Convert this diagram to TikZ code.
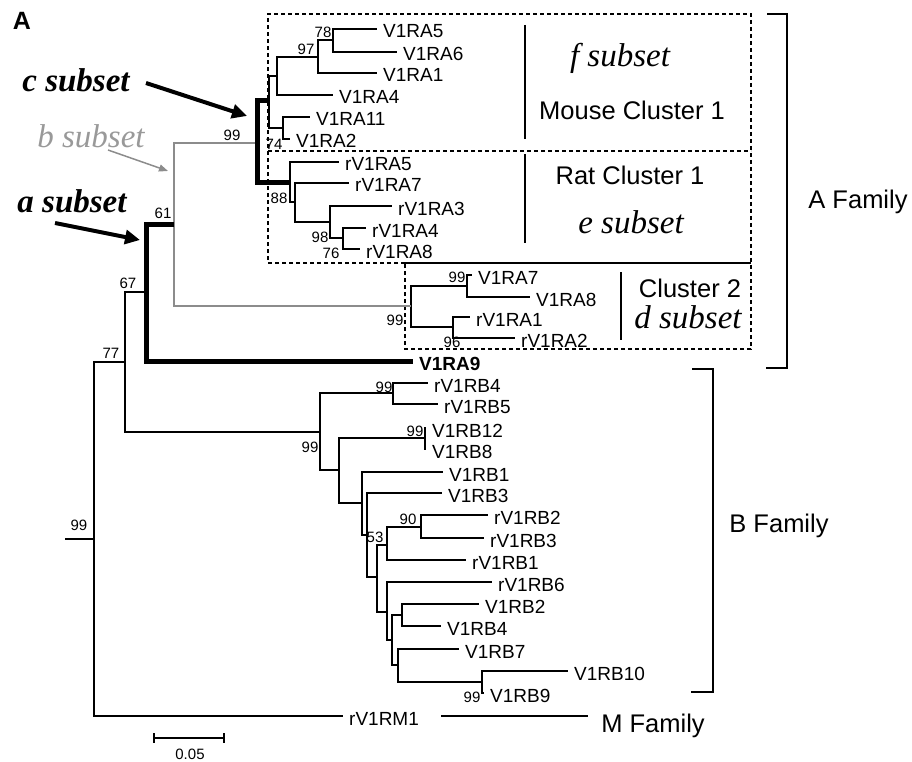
\documentclass[tikz,border=0pt]{standalone}
\usepackage{fontspec}
\setmainfont{Liberation Sans}
\newfontfamily\serifit{Liberation Serif}
\usetikzlibrary{arrows.meta}
\newcommand\leafsz{\fontsize{19}{22}\selectfont}
\newcommand\bootsz{\fontsize{15}{18}\selectfont}
\newcommand\famsz{\fontsize{25.5}{30}\selectfont}
\newcommand\subsz{\fontsize{33}{38}\selectfont}
\begin{document}
\begin{tikzpicture}[x=1pt,y=-1pt,
  br/.style={line width=1.3pt},
  thk/.style={line width=5pt},
  gry/.style={line width=1.6pt, draw=black!45},
  leaf/.style={anchor=west, inner xsep=6pt, inner ysep=0pt, text height=18pt, text depth=0pt, font=\leafsz},
  bs/.style={inner sep=0pt, font=\bootsz},
  fam/.style={anchor=base, inner sep=0pt, font=\famsz},
  subs/.style={anchor=base, inner sep=0pt, font=\subsz\serifit\itshape},
  dbox/.style={line width=1.3pt, dash pattern=on 4pt off 3pt},
  sep/.style={line width=1.3pt},
  bigarrow/.style={line width=4pt, -{Triangle[length=15pt,width=14pt]}},
  greyarrow/.style={line width=1.5pt, draw=black!45, -{Triangle[length=9pt,width=7pt]}, black!45}
]
\useasboundingbox (0,0) rectangle (912,762);

% ---------- dashed cluster boxes ----------
\draw[dbox] (405,263) -- (268,263) -- (268,14) -- (751,14) -- (751,349) -- (405,349) -- cycle;
\draw[dbox] (268,151) -- (751,151);
\draw[sep] (405,263) -- (751,263);
\draw[sep] (525,25) -- (525,139);
\draw[sep] (525,154) -- (525,243);
\draw[sep] (621,272) -- (621,340);

% ---------- leaf labels ----------
\node[leaf] (V1RA5) at (377,29) {V1RA5};
\node[leaf] (V1RA6) at (397,52) {V1RA6};
\node[leaf] (V1RA1) at (377,73) {V1RA1};
\node[leaf] (V1RA4) at (333,95) {V1RA4};
\node[leaf] (V1RA11) at (310,117) {V1RA11};
\node[leaf] (V1RA2) at (290,139) {V1RA2};
\node[leaf] (rV1RA5) at (339,162) {rV1RA5};
\node[leaf] (rV1RA7) at (349,183) {rV1RA7};
\node[leaf] (rV1RA3) at (392,206) {rV1RA3};
\node[leaf] (rV1RA4) at (366,228) {rV1RA4};
\node[leaf] (rV1RA8) at (360,249) {rV1RA8};
\node[leaf] (V1RA7) at (472,275) {V1RA7};
\node[leaf] (V1RA8) at (530,297) {V1RA8};
\node[leaf] (rV1RA1) at (470,317) {rV1RA1};
\node[leaf] (rV1RA2) at (515,338) {rV1RA2};
\node[leaf,font=\leafsz\bfseries] (V1RA9) at (413,361) {V1RA9};
\node[leaf] (rV1RB4) at (428,383) {rV1RB4};
\node[leaf] (rV1RB5) at (438,404) {rV1RB5};
\node[leaf] (V1RB12) at (426,428) {V1RB12};
\node[leaf] (V1RB8) at (426,449) {V1RB8};
\node[leaf] (V1RB1) at (443,472) {V1RB1};
\node[leaf] (V1RB3) at (442,493) {V1RB3};
\node[leaf] (rV1RB2) at (488,515) {rV1RB2};
\node[leaf] (rV1RB3) at (484,538) {rV1RB3};
\node[leaf] (rV1RB1) at (466,560) {rV1RB1};
\node[leaf] (rV1RB6) at (492,582) {rV1RB6};
\node[leaf] (V1RB2) at (479,604) {V1RB2};
\node[leaf] (V1RB4) at (441,626) {V1RB4};
\node[leaf] (V1RB7) at (459,649) {V1RB7};
\node[leaf] (V1RB10) at (568,671) {V1RB10};
\node[leaf] (V1RB9) at (484,693) {V1RB9};
\node[leaf] (rV1RM1) at (343,716) {rV1RM1};

% ---------- internal nodes ----------
\coordinate (n78) at (333,40);
\coordinate (n97) at (318,57);
\coordinate (n4) at (277,76);
\coordinate (nx) at (283,128);
\coordinate (nmouse) at (269,101);
\coordinate (nrat) at (290,183);
\coordinate (nr2) at (295,202);
\coordinate (nr3) at (330,222);
\coordinate (nr4) at (343,238);
\coordinate (nc) at (257,143);
\coordinate (nc1) at (467,286);
\coordinate (nc2) at (453,327);
\coordinate (ncl2) at (411,306);
\coordinate (ng) at (174,224);
\coordinate (na) at (146,292);
\coordinate (n125) at (125,362);
\coordinate (root) at (94,539);
\coordinate (stub) at (65,539);
\coordinate (nb) at (320,432);
\coordinate (nb1) at (393,393);
\coordinate (nb2) at (339,470);
\coordinate (n12) at (425,438);
\coordinate (nb3) at (362,503);
\coordinate (nb4) at (367,535);
\coordinate (nb5) at (377,577);
\coordinate (nb6) at (387,545);
\coordinate (nb7) at (421,527);
\coordinate (nb8) at (387,612);
\coordinate (nb9) at (392,640);
\coordinate (nb10) at (402,615);
\coordinate (nb11) at (398,665);
\coordinate (nb12) at (482,682);

% ---------- branches: mouse cluster ----------
\draw[br] (n78) |- (V1RA5.west);
\draw[br] (n78) |- (V1RA6.west);
\draw[br] (n97) |- (n78);
\draw[br] (n97) |- (V1RA1.west);
\draw[br] (n4) |- (n97);
\draw[br] (n4) |- (V1RA4.west);
\draw[br] (nx) |- (V1RA11.west);
\draw[br] (nx) |- (V1RA2.west);
\draw[br] (nmouse) |- (n4);
\draw[br] (nmouse) |- (nx);
% rat cluster
\draw[br] (nrat) |- (rV1RA5.west);
\draw[br] (nrat) |- (nr2);
\draw[br] (nr2) |- (rV1RA7.west);
\draw[br] (nr2) |- (nr3);
\draw[br] (nr3) |- (rV1RA3.west);
\draw[br] (nr3) |- (nr4);
\draw[br] (nr4) |- (rV1RA4.west);
\draw[br] (nr4) |- (rV1RA8.west);
% cluster 2
\draw[br] (ncl2) |- (nc1);
\draw[br] (ncl2) |- (nc2);
\draw[br] (nc1) |- (V1RA7.west);
\draw[br] (nc1) |- (V1RA8.west);
\draw[br] (nc2) |- (rV1RA1.west);
\draw[br] (nc2) |- (rV1RA2.west);
% B family
\draw[br] (nb) |- (nb1);
\draw[br] (nb) |- (nb2);
\draw[br] (nb1) |- (rV1RB4.west);
\draw[br] (nb1) |- (rV1RB5.west);
\draw[br] (nb2) |- (n12);
\draw[br] (nb2) |- (nb3);
\draw[br] (n12) |- (V1RB12.west);
\draw[br] (n12) |- (V1RB8.west);
\draw[br] (nb3) |- (V1RB1.west);
\draw[br] (nb3) |- (nb4);
\draw[br] (nb4) |- (V1RB3.west);
\draw[br] (nb4) |- (nb5);
\draw[br] (nb5) |- (nb6);
\draw[br] (nb5) |- (nb8);
\draw[br] (nb6) |- (nb7);
\draw[br] (nb6) |- (rV1RB1.west);
\draw[br] (nb7) |- (rV1RB2.west);
\draw[br] (nb7) |- (rV1RB3.west);
\draw[br] (nb8) |- (rV1RB6.west);
\draw[br] (nb8) |- (nb9);
\draw[br] (nb9) |- (nb10);
\draw[br] (nb9) |- (nb11);
\draw[br] (nb10) |- (V1RB2.west);
\draw[br] (nb10) |- (V1RB4.west);
\draw[br] (nb11) |- (V1RB7.west);
\draw[br] (nb11) |- (nb12);
\draw[br] (nb12) |- (V1RB10.west);
\draw[br] (nb12) |- (V1RB9.west);
% backbone
\draw[br] (n125) |- (na);
\draw[br] (n125) |- (nb);
\draw[br] (root) |- (n125);
\draw[br] (root) |- (rV1RM1.west);
\draw[br] (stub) -- (root);
% grey b subset branch
\draw[gry] (nc) -| (ng) |- (ncl2);
% thick a and c subset branches
\draw[thk] (ng) -| (na) |- (V1RA9.west);
\draw[thk] (nmouse) -| (nc) |- (nrat);

% ---------- bootstrap values ----------
\node[bs] (b78) at (323,32) {78};
\node[bs] (b97) at (306,49) {97};
\node[bs] (b74) at (274,144) {74};
\node[bs] (b99c) at (232,135) {99};
\node[bs] (b88) at (279,198) {88};
\node[bs] (b98) at (320,237) {98};
\node[bs] (b76) at (331,253) {76};
\node[bs] (b61) at (163,213) {61};
\node[bs] (b67) at (128,283) {67};
\node[bs] (b77) at (111,353) {77};
\node[bs] (b99r) at (79,525) {99};
\node[bs] (b99c1) at (457,277) {99};
\node[bs] (b99cl) at (395,320) {99};
\node[bs] (b96) at (452,342) {96};
\node[bs] (b99b1) at (384,387) {99};
\node[bs] (b99b) at (310,447) {99};
\node[bs] (b99n12) at (415,431) {99};
\node[bs] (b90) at (408,519) {90};
\node[bs] (b53) at (375,537) {53};
\node[bs] (b99b12) at (472,697) {99};

% ---------- cluster annotations ----------
\node[subs] (fsub) at (620,67) {f subset};
\node[fam] (mc1) at (632,120) {Mouse Cluster 1};
\node[fam] (rc1) at (630,185) {Rat Cluster 1};
\node[subs] (esub) at (631,233) {e subset};
\node[fam] (cl2) at (690,297) {Cluster 2};
\node[subs] (dsub) at (688,328) {d subset};

% ---------- family brackets ----------
\draw[line width=1.6pt] (767,14) -- (787,14) -- (787,368) -- (766,368);
\node[fam] (afam) at (858,208) {A Family};
\draw[line width=1.6pt] (692,369) -- (713,369) -- (713,692) -- (691,692);
\node[fam] (bfam) at (779,532) {B Family};
\coordinate (m0) at (441,716);
\coordinate (m1) at (588,716);
\draw[line width=1.6pt] (m0) -- (m1);
\node[fam] (mfam) at (653,732) {M Family};

% ---------- subset arrows ----------
\node[anchor=base, inner sep=0pt, font=\subsz\serifit\bfseries\itshape] (csub) at (76,92) {c subset};
\node[anchor=base, inner sep=0pt, font=\subsz\serifit\bfseries\itshape] (asub) at (72,212) {a subset};
\node[anchor=base, inner sep=0pt, font=\subsz\serifit\itshape, text=black!40] (bsub) at (91,148) {b subset};
\coordinate (c0) at (146,83);
\coordinate (c1) at (247,116);
\coordinate (a0) at (55,223);
\coordinate (a1) at (140,240);
\coordinate (g0) at (108,150);
\coordinate (g1) at (168,171);
\draw[bigarrow] (c0) -- (c1);
\draw[bigarrow] (a0) -- (a1);
\draw[greyarrow] (g0) -- (g1);

% ---------- panel label and scale bar ----------
\node[anchor=base, inner sep=0pt, font=\fontsize{25}{28}\selectfont\bfseries] (panelA) at (22,30) {A};
\coordinate (s0) at (154,738);
\coordinate (s1) at (224,738);
\draw[line width=1.5pt] (s0) -- (s1);
\draw[line width=1.5pt] ([yshift=5pt]s0) -- ([yshift=-5pt]s0);
\draw[line width=1.5pt] ([yshift=5pt]s1) -- ([yshift=-5pt]s1);
\node[anchor=base, inner sep=0pt, font=\bootsz] (scale) at (190,759) {0.05};
\end{tikzpicture}
\end{document}
